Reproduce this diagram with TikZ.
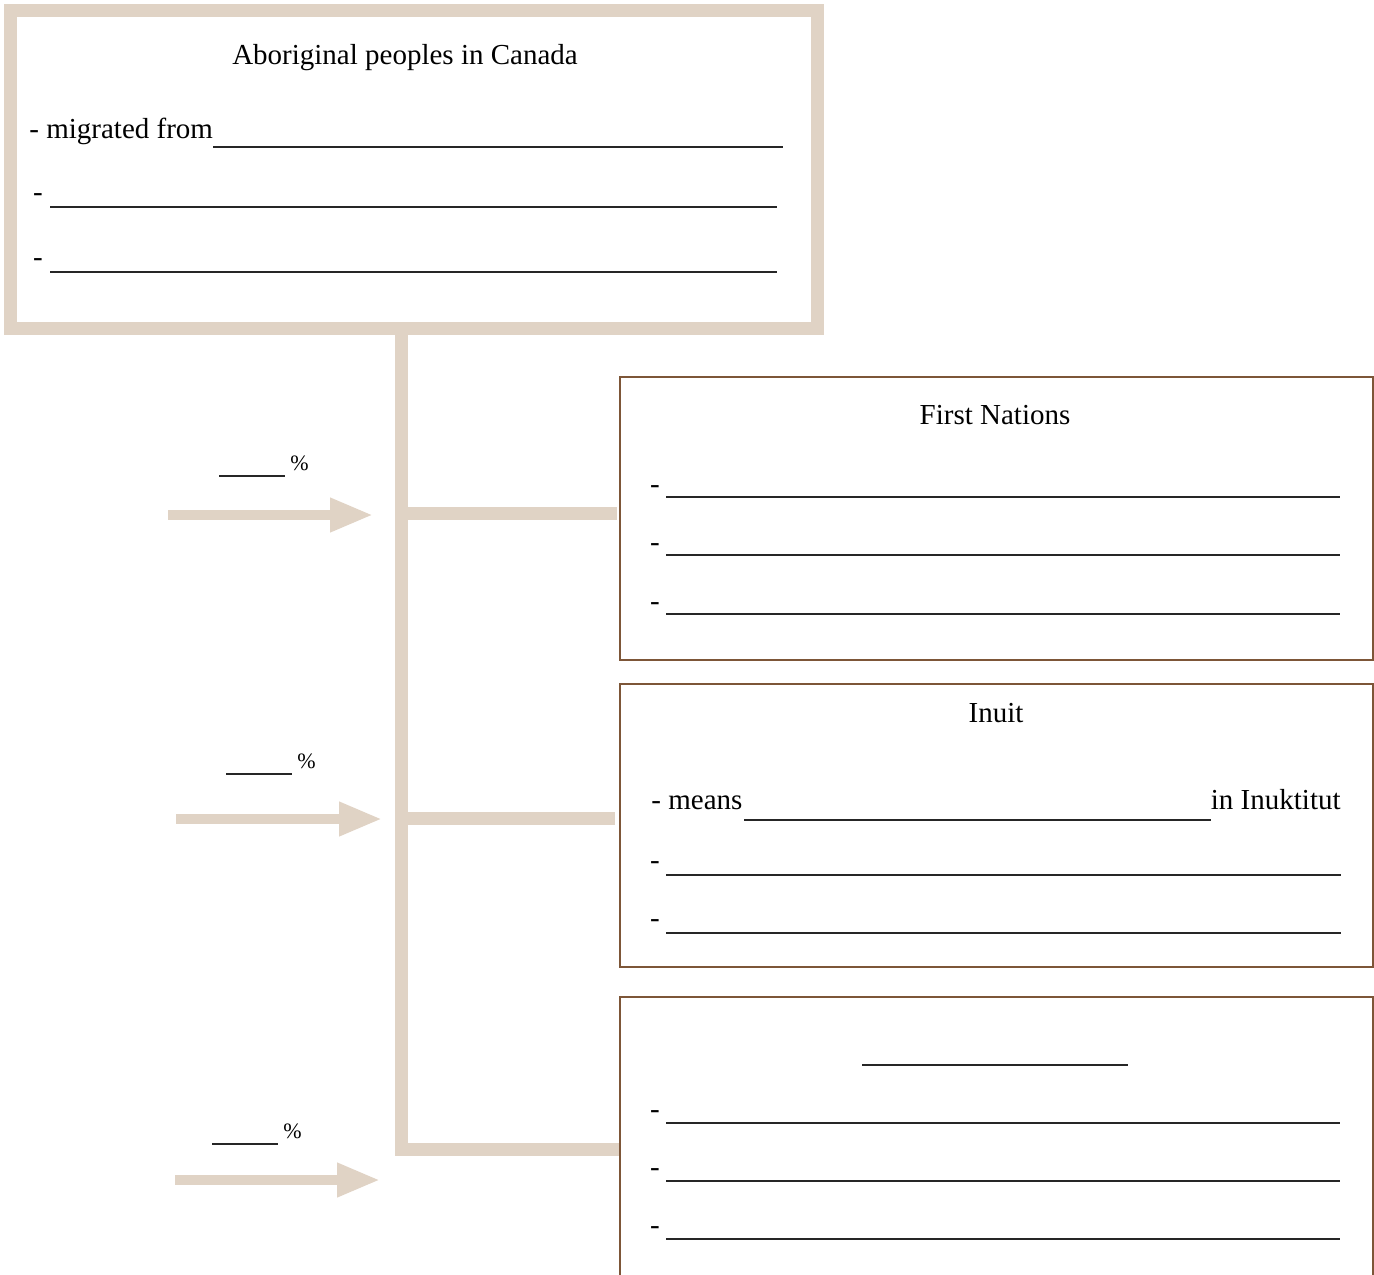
\documentclass[tikz,border=0pt]{standalone}
\usepackage{fontspec}
\setmainfont{Liberation Serif}
\usetikzlibrary{arrows.meta}
\definecolor{sand}{HTML}{E0D3C5}
\definecolor{bark}{HTML}{7D5638}
\tikzset{
  bigframe/.style={draw=sand,line width=6.5pt},
  subframe/.style={draw=bark,line width=1.3pt},
  trunk/.style={draw=sand,line width=6.5pt},
  feed/.style={draw=sand,line width=5pt,-{Triangle[length=21.5pt,width=16pt]}},
  blank/.style={draw=black!85,line width=0.8pt},
  lbl/.style={font=\fontsize{14.5}{17}\selectfont,inner sep=0pt},
  pct/.style={font=\fontsize{11}{13}\selectfont,inner sep=0pt,anchor=base west}
}
\begin{document}
\begin{tikzpicture}[x=0.5pt,y=-0.5pt]
\useasboundingbox (0,0) rectangle (1374,1274);
% top box
\draw[bigframe] (10,10) rectangle (817,328);
\node[lbl] (abo) at (405,58) {Aboriginal peoples in Canada};
\node[lbl,anchor=base west] (mig) at (29,138) {- migrated from};
\draw[blank] (mig.base east) ++(0,9) -- (783,147);
\foreach \y [count=\i] in {193,258}
{
  \node[lbl] (abod\i) at (38,\y+5) {-};
  \draw[blank] (50,\y+14) -- (777,\y+14);
}
% trunk and branches
\coordinate (t0) at (401,334);
\coordinate (t3) at (401,1149);
\coordinate (b3) at (620,1149);
\draw[trunk] (t0) -- (t3) -- (b3);
\foreach \y/\xe [count=\i] in {513/617,818/615}
{
  \coordinate (s\i) at (401,\y);
  \coordinate (b\i) at (\xe,\y);
  \draw[trunk] (s\i) -- (b\i);
}
% arrows and percentages
\foreach \xs/\xe/\y/\px/\py [count=\i] in {168/373/515/219/462,176/382/819/226/760,175/380/1180/212/1130}
{
  \coordinate (f\i) at (\xs,\y);
  \coordinate (g\i) at (\xe,\y);
  \draw[feed] (f\i) -- (g\i);
  \node[pct] (p\i) at (\px+71,\py+8) {\%};
  \draw[blank] (\px,\py+14) -- (\px+66,\py+14);
}
% first nations
\draw[subframe] (620,377) rectangle (1373,660);
\node[lbl] (fn) at (995,415) {First Nations};
\foreach \y [count=\i] in {485,543,602}
{
  \node[lbl] (fnd\i) at (655,\y+5) {-};
  \draw[blank] (666,\y+12) -- (1340,\y+12);
}
% inuit
\draw[subframe] (620,684) rectangle (1373,967);
\node[lbl] (inu) at (996,713) {Inuit};
\node[lbl,anchor=base west] (mea) at (651,809) {- means};
\node[lbl,anchor=base east] (ink) at (1341,809) {in Inuktitut};
\draw[blank] (744,820) -- (ink.base west |- 0,820);
\foreach \y [count=\i] in {861,919}
{
  \node[lbl] (inud\i) at (655,\y+5) {-};
  \draw[blank] (666,\y+14) -- (1341,\y+14);
}
% third group
\draw[subframe] (620,1290) -- (620,997) -- (1373,997) -- (1373,1290);
\draw[blank] (862,1065) -- (1128,1065);
\foreach \y [count=\i] in {1110,1168,1226}
{
  \node[lbl] (thd\i) at (655,\y+5) {-};
  \draw[blank] (666,\y+13) -- (1340,\y+13);
}
\end{tikzpicture}
\end{document}
